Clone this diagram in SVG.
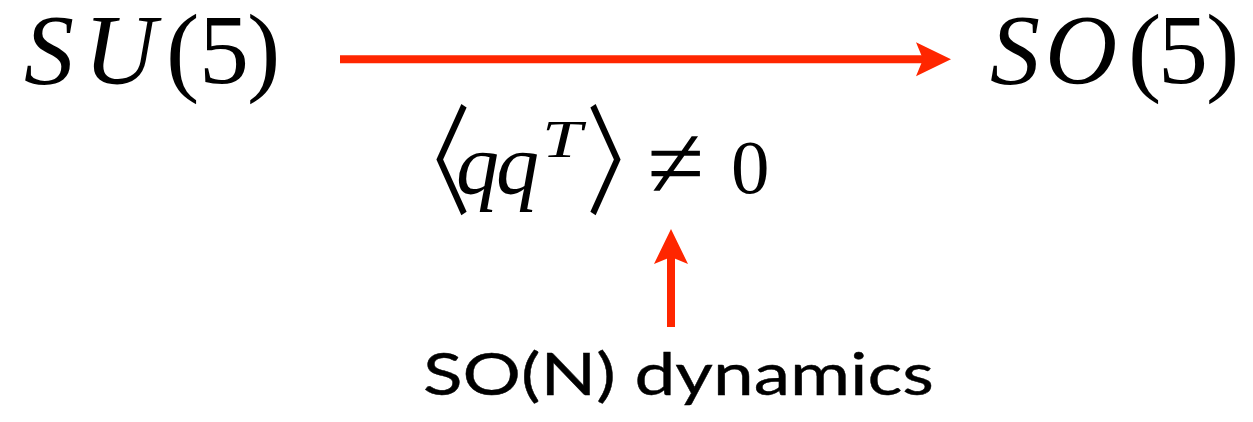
<svg xmlns="http://www.w3.org/2000/svg" width="1253" height="422" viewBox="0 0 1253 422">
  <style>
    .math { font-family: "Liberation Serif", "DejaVu Serif", serif; fill: #000; }
    .it { font-style: italic; }
    .ang { font-family: "Noto Sans CJK JP", "Noto Sans CJK SC", sans-serif; fill: #000; }
    .lbl { font-family: "Lato", "Open Sans", "Liberation Sans", sans-serif; fill: #000; stroke: #000; stroke-width: 0.4; }
    .conn { stroke: #ff2600; stroke-width: 8; fill: none; }
  </style>
  <defs>
    <marker id="head" markerUnits="userSpaceOnUse" markerWidth="36" markerHeight="36" refX="7" refY="17" orient="auto" viewBox="0 0 36 34">
      <path d="M0,0 L35,17 L0,34 L7,17 Z" fill="#ff2600"/>
    </marker>
  </defs>
  <rect width="1253" height="422" fill="#fff"/>
  <g id="connectors">
    <line class="conn" x1="340" y1="59.3" x2="923" y2="59.3" marker-end="url(#head)"/>
    <line class="conn" x1="671" y1="327" x2="671" y2="257" marker-end="url(#head)"/>
  </g>
  <g id="su5">
    <text class="math" font-size="100" y="83"><tspan class="it" x="24">S</tspan><tspan class="it" x="84">U</tspan><tspan x="166">(</tspan><tspan x="199">5</tspan><tspan x="247">)</tspan></text>
  </g>
  <g id="so5">
    <text class="math" font-size="100" y="83"><tspan class="it" x="990">S</tspan><tspan class="it" x="1045">O</tspan><tspan x="1128">(</tspan><tspan x="1158">5</tspan><tspan x="1206">)</tspan></text>
  </g>
  <g id="condensate">
    <text class="ang" font-size="84" x="387" y="203" transform="matrix(1,0,0,1.42,0,-83)">〈</text>
    <text class="math it" font-size="86" y="193"><tspan x="456">q</tspan><tspan x="496">q</tspan></text>
    <text class="math it" font-size="52" x="542" y="157" textLength="40" lengthAdjust="spacingAndGlyphs">T</text>
    <text class="ang" font-size="84" x="586" y="203" transform="matrix(1,0,0,1.42,0,-83)">〉</text>
    <text class="math" font-size="104" x="647" y="198">≠</text>
    <text class="math" font-size="77" x="731" y="193">0</text>
  </g>
  <g id="dynamics">
    <text class="lbl" font-size="58" x="423" y="395" textLength="511" lengthAdjust="spacingAndGlyphs">SO(N) dynamics</text>
  </g>
</svg>
